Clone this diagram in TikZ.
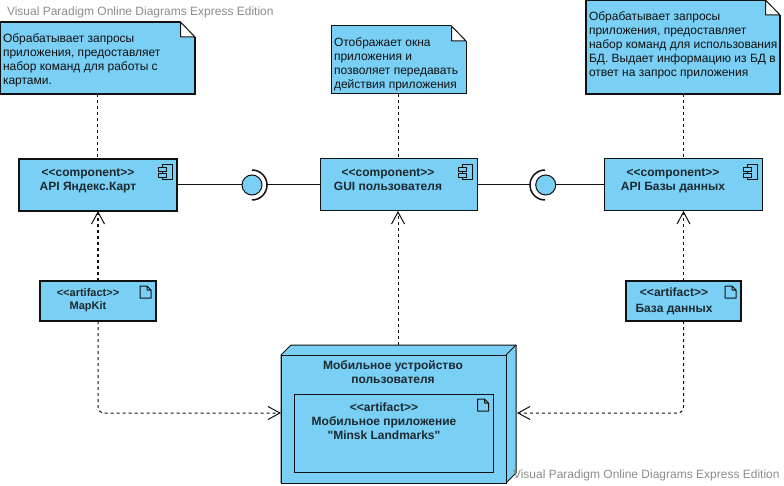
\documentclass[tikz,border=0pt]{standalone}
\usepackage{fontspec}
\setmainfont{Liberation Sans}[Ligatures=TeXOff]
\usetikzlibrary{arrows.meta}
\definecolor{fillblue}{HTML}{7ACFF5}
\definecolor{inkdark}{HTML}{111111}
\definecolor{boldink}{HTML}{1C2A30}
\definecolor{wm}{HTML}{8C8C8C}
\newcommand{\txt}{\fontsize{12}{14}\selectfont}
\newcommand{\stxt}{\fontsize{12}{14}\selectfont\bfseries}
\tikzset{
  x=1pt,y=-1pt,
  every node/.style={inner sep=0pt,outer sep=0pt},
  bluebox/.style={draw=inkdark,fill=fillblue,line width=1pt,anchor=north west},
  thickbox/.style={bluebox,line width=1.3pt},
  notetext/.style={align=left,anchor=north west,font=\txt,text=inkdark},
  comptext/.style={align=center,anchor=north,font=\stxt,text=boldink},
  ball/.style={circle,draw=inkdark,fill=fillblue,line width=1pt,minimum size=20pt},
  cup/.style={draw=inkdark,line width=1.5pt},
  wire/.style={draw=inkdark,line width=1pt},
  dep/.style={draw=inkdark,line width=1pt,dash pattern=on 3pt off 3pt},
  depthick/.style={dep,line width=1.6pt},
  tip/.style={-{Straight Barb[length=12pt,width=13pt,line width=1pt]}},
  watermark/.style={anchor=west,font=\fontsize{12}{14}\selectfont,text=wm}
}
% dog-ear for a note node
\newcommand{\ear}[1]{%
  \fill[white] ([xshift=-14.5pt,yshift=1.5pt]#1.north east) -- ([xshift=1.5pt,yshift=1.5pt]#1.north east) -- ([xshift=1.5pt,yshift=-15pt]#1.north east) -- ([yshift=-15pt]#1.north east) -- ([xshift=-14.5pt]#1.north east) -- cycle;
  \draw[wire,line join=round,fill=white] ([xshift=-14.5pt]#1.north east) -- ([xshift=-14.5pt,yshift=-15pt]#1.north east) -- ([yshift=-15pt]#1.north east) -- cycle;}
% component icon
\newcommand{\compicon}[1]{%
  \draw[wire,fill=fillblue] ([shift={(-15,6)}]#1.north east) rectangle ([shift={(-5,21)}]#1.north east);
  \draw[wire,fill=fillblue] ([shift={(-19,9)}]#1.north east) rectangle ([shift={(-11,13)}]#1.north east);
  \draw[wire,fill=fillblue] ([shift={(-19,15)}]#1.north east) rectangle ([shift={(-11,19)}]#1.north east);}
% artifact icon
\newcommand{\articon}[1]{%
  \draw[wire,line join=round] ([shift={(-16,5)}]#1.north east) -- ([shift={(-9,5)}]#1.north east) -- ([shift={(-5,9)}]#1.north east) -- ([shift={(-5,17)}]#1.north east) -- ([shift={(-16,17)}]#1.north east) -- cycle
  ([shift={(-9,5)}]#1.north east) -- ([shift={(-9,9)}]#1.north east) -- ([shift={(-5,9)}]#1.north east);}
\begin{document}
\begin{tikzpicture}
\useasboundingbox (0,0) rectangle (784,486);
\fill[white] (0,0) rectangle (784,486);

% notes
\node[thickbox,minimum width=195pt,minimum height=72pt] (n1) at (0,22) {};
\ear{n1}
\node[notetext] (n1t) at (3,32.5) {\strut Обрабатывает запросы\\\strut приложения, предоставляет\\\strut набор команд для работы с\\\strut картами.};
\node[bluebox,minimum width=135pt,minimum height=68pt] (n2) at (331,26) {};
\ear{n2}
\node[notetext] (n2t) at (334,36.5) {\strut Отображает окна\\\strut приложения и\\\strut позволяет передавать\\\strut действия приложения};
\node[thickbox,minimum width=194pt,minimum height=94pt] (n3) at (586,0) {};
\ear{n3}
\node[notetext] (n3t) at (589,10.5) {\strut Обрабатывает запросы\\\strut приложения, предоставляет\\\strut набор команд для использования\\\strut БД. Выдает информацию из БД в\\\strut ответ на запрос приложения};

% components
\node[thickbox,minimum width=158pt,minimum height=52pt] (c1) at (19,159) {};
\compicon{c1}
\node[comptext] (c1t) at (88,167) {\strut <<component>>\\\strut API Яндекс.Карт};
\node[bluebox,minimum width=157pt,minimum height=52pt] (c2) at (320,159) {};
\compicon{c2}
\node[comptext] (c2t) at (388,167) {\strut <<component>>\\\strut GUI пользователя};
\node[bluebox,minimum width=158pt,minimum height=52pt] (c3) at (604,159) {};
\compicon{c3}
\node[comptext] (c3t) at (673,167) {\strut <<component>>\\\strut API Базы данных};

% artifacts
\node[thickbox,minimum width=116pt,minimum height=40pt] (a1) at (40,281) {};
\articon{a1}
\node[comptext,font=\fontsize{11}{13.5}\selectfont\bfseries] (a1t) at (88,287) {\strut <<artifact>>\\\strut MapKit};
\node[thickbox,minimum width=115pt,minimum height=40pt] (a2) at (626,281) {};
\articon{a2}
\node[comptext,font=\fontsize{12}{15}\selectfont\bfseries] (a2t) at (674,286.5) {\strut <<artifact>>\\\strut База данных};

% device node
\draw[wire,fill=fillblue,line join=round] (281,355) -- (291,345) -- (516,345) -- (516,473) -- (506,483) -- (281,483) -- cycle;
\node[bluebox,minimum width=225pt,minimum height=128pt] (dev) at (281,355) {};
\draw[wire] (dev.north east) -- (516,345);
\node[comptext] (devt) at (393,359.5) {\strut Мобильное устройство\\\strut пользователя};
\node[bluebox,minimum width=199pt,minimum height=78pt] (app) at (294.5,394) {};
\articon{app}
\node[comptext] (appt) at (384,401.5) {\strut <<artifact>>\\\strut Мобильное приложение\\\strut "Minsk Landmarks"};
\coordinate (devtop) at (398,345);
\coordinate (devleft) at (281,413);
\coordinate (devright) at (517,413);

% interfaces
\node[ball] (b1) at (252,185) {};
\draw[cup] (252,170) arc[start angle=90,end angle=-90,x radius=15,y radius=-15];
\coordinate (cup1) at (267,185);
\node[ball] (b2) at (545.7,185) {};
\draw[cup] (545,170) arc[start angle=90,end angle=270,x radius=15,y radius=-15];
\coordinate (cup2) at (530,185);
\draw[wire] (c1.east) -- (b1.west);
\draw[wire] (cup1) -- (c2.west);
\draw[wire] (c2.east) -- (cup2);
\draw[wire] (b2.east) -- (c3.west);

% dependencies
\draw[depthick] (n1.south) -- (n1.south |- c1.north);
\draw[dep] (n2.south) -- (c2.north);
\draw[dep] (n3.south) -- (c3.north);
\draw[depthick,tip] (a1.north) -- (a1.north |- c1.south);
\draw[dep,tip] (devtop) -- (devtop |- c2.south);
\draw[dep,tip] (a2.north) -- (a2.north |- c3.south);
\draw[dep,tip,rounded corners=6pt] (a1.south) -- (a1.south |- devleft) -- (devleft);
\draw[dep,tip,rounded corners=6pt] (a2.south) -- (a2.south |- devright) -- (devright);

% watermarks
\node[watermark] (w1) at (7,12) {Visual Paradigm Online Diagrams Express Edition};
\node[watermark] (w2) at (513,475) {Visual Paradigm Online Diagrams Express Edition};
\end{tikzpicture}
\end{document}
